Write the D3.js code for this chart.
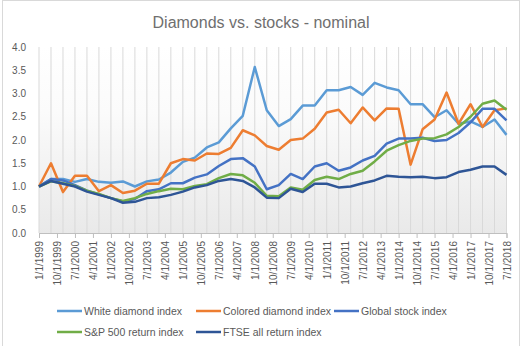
<!DOCTYPE html>
<html>
<head>
<meta charset="utf-8">
<script src="https://cdn.jsdelivr.net/npm/d3@7"></script>
<style>
  body { margin: 0; background: white; }
  text { font-family: "Liberation Sans", Arial, sans-serif; fill: #595959; }
</style>
</head>
<body>
<div id="chart"></div>
<script>

// half-yearly index values, all start at 1.0
var dates = ["1/1/1999","7/1/1999","1/1/2000","7/1/2000","1/1/2001","7/1/2001","1/1/2002","7/1/2002",
  "1/1/2003","7/1/2003","1/1/2004","7/1/2004","1/1/2005","7/1/2005","1/1/2006","7/1/2006",
  "1/1/2007","7/1/2007","1/1/2008","7/1/2008","1/1/2009","7/1/2009","1/1/2010","7/1/2010",
  "1/1/2011","7/1/2011","1/1/2012","7/1/2012","1/1/2013","7/1/2013","1/1/2014","7/1/2014",
  "1/1/2015","7/1/2015","1/1/2016","7/1/2016","1/1/2017","7/1/2017","1/1/2018","7/1/2018"];

var whiteDiamond = [1.00,1.16,1.16,1.10,1.16,1.10,1.08,1.11,1.00,1.11,1.15,1.30,1.53,1.62,1.84,1.95,2.25,2.52,3.57,2.64,
  2.30,2.45,2.74,2.74,3.07,3.07,3.14,2.97,3.23,3.13,3.07,2.77,2.77,2.49,2.64,2.35,2.40,2.28,2.44,2.11];
var coloredDiamond = [1.00,1.50,0.88,1.23,1.23,0.90,1.03,0.86,0.91,1.06,1.06,1.50,1.59,1.56,1.71,1.70,1.83,2.21,2.10,1.87,
  1.79,2.00,2.03,2.24,2.59,2.65,2.36,2.70,2.42,2.68,2.67,1.47,2.23,2.44,3.02,2.35,2.77,2.28,2.64,2.68];
var globalStock = [1.00,1.16,1.13,1.03,0.91,0.83,0.75,0.68,0.73,0.90,0.94,1.07,1.07,1.19,1.26,1.44,1.59,1.61,1.43,0.94,
  1.03,1.27,1.16,1.43,1.50,1.34,1.41,1.56,1.66,1.92,2.03,2.03,2.05,1.98,2.00,2.15,2.38,2.67,2.67,2.42];
var sp500 = [1.00,1.11,1.07,1.01,0.91,0.84,0.75,0.69,0.75,0.84,0.90,0.95,0.94,1.01,1.05,1.18,1.27,1.24,1.08,0.80,
  0.79,0.98,0.93,1.14,1.21,1.16,1.27,1.34,1.54,1.77,1.89,1.98,2.03,2.04,2.12,2.28,2.50,2.78,2.85,2.65];
var ftseAll = [1.00,1.12,1.06,1.00,0.89,0.82,0.75,0.65,0.67,0.75,0.77,0.82,0.89,0.98,1.03,1.12,1.16,1.12,0.98,0.76,
  0.75,0.95,0.88,1.06,1.06,0.98,1.00,1.07,1.13,1.23,1.21,1.20,1.21,1.18,1.20,1.31,1.36,1.43,1.43,1.25];

var tickLabels = ["1/1/1999","10/1/1999","7/1/2000","4/1/2001","1/1/2002","10/1/2002","7/1/2003","4/1/2004",
  "1/1/2005","10/1/2005","7/1/2006","4/1/2007","1/1/2008","10/1/2008","7/1/2009","4/1/2010","1/1/2011",
  "10/1/2011","7/1/2012","4/1/2013","1/1/2014","10/1/2014","7/1/2015","4/1/2016","1/1/2017","10/1/2017","7/1/2018"];

var yTicks = [0, 0.5, 1, 1.5, 2, 2.5, 3, 3.5, 4];

var seriesNames = ["White diamond index","Colored diamond index","Global stock index","S&P 500 return index","FTSE all return index"];
var seriesColors = ["#5b9bd5","#ed7d31","#4472c4","#70ad47","#2e5596"];
var seriesValues = [whiteDiamond, coloredDiamond, globalStock, sp500, ftseAll];

var width = 526, height = 346;
var parse = d3.timeParse("%m/%d/%Y");
var start = parse(dates[0]);
function months(s) { return d3.timeMonth.count(start, parse(s)); }

var x = d3.scaleLinear().domain([0, months(dates[dates.length - 1])]).range([39, 506.5]);
var y = d3.scaleLinear().domain([0, 4]).range([233, 47]);

var svg = d3.select('#chart').append('svg')
  .attr('width', width)
  .attr('height', height);

// chart frame
svg.append('rect')
  .attr('x', 2.5).attr('y', 0.5)
  .attr('width', 517).attr('height', 360)
  .attr('fill', 'white')
  .attr('stroke', '#d9d9d9');

var grad = svg.append('defs').append('linearGradient')
  .attr('id', 'plotfill')
  .attr('x1', 0).attr('y1', 0).attr('x2', 0).attr('y2', 1);
grad.append('stop').attr('offset', '0%').attr('stop-color', '#ffffff');
grad.append('stop').attr('offset', '35%').attr('stop-color', '#fbfbfb');
grad.append('stop').attr('offset', '100%').attr('stop-color', '#e9e9e9');

svg.append('rect')
  .attr('x', x.range()[0]).attr('y', y(4))
  .attr('width', x.range()[1] - x.range()[0])
  .attr('height', y(0) - y(4))
  .attr('fill', 'url(#plotfill)');

// vertical gridline at every data point
svg.append('g').selectAll('line')
  .data(dates)
  .enter().append('line')
  .attr('x1', function(d) { return x(months(d)); })
  .attr('x2', function(d) { return x(months(d)); })
  .attr('y1', y(4)).attr('y2', y(0))
  .attr('stroke', '#d9d9d9')
  .attr('stroke-width', 1);

svg.append('text')
  .attr('x', 261).attr('y', 28)
  .attr('text-anchor', 'middle')
  .style('font-size', '16px')
  .style('fill', '#6f6f6f')
  .text('Diamonds vs. stocks - nominal');

// y axis labels only, no axis line
var yAxis = d3.axisLeft(y).tickValues(yTicks).tickFormat(d3.format('.1f')).tickSize(0).tickPadding(13);
var gy = svg.append('g').attr('transform', 'translate(39,0)').call(yAxis);
gy.select('.domain').remove();
gy.selectAll('text').style('font-size', '10px').style('font-family', null);

// x axis: ticks every 9 months, labels rotated
var xAxis = d3.axisBottom(x)
  .tickValues(tickLabels.map(months))
  .tickFormat(function(d, i) { return tickLabels[i]; })
  .tickSizeOuter(0)
  .tickSize(5);
var gx = svg.append('g').attr('transform', 'translate(0,' + y(0) + ')').call(xAxis);
gx.select('.domain').attr('stroke', '#bfbfbf');
gx.selectAll('.tick line').attr('stroke', '#bfbfbf');
gx.selectAll('text')
  .style('font-size', '10px')
  .style('font-family', null)
  .attr('text-anchor', 'end')
  .attr('transform', 'rotate(-90)')
  .attr('x', -8).attr('y', 0).attr('dy', '0.35em');

var line = d3.line()
  .x(function(d, i) { return x(months(dates[i])); })
  .y(function(d) { return y(d); });

svg.append('g').selectAll('path')
  .data(seriesValues)
  .enter().append('path')
  .attr('d', line)
  .attr('fill', 'none')
  .attr('stroke', function(d, i) { return seriesColors[i]; })
  .attr('stroke-width', 2.5)
  .attr('stroke-linejoin', 'round');

// legend, two rows
var legendPos = [[57, 311], [196, 311], [334, 311], [57, 332], [196, 332]];
var legend = svg.append('g').selectAll('g')
  .data(seriesNames)
  .enter().append('g')
  .attr('transform', function(d, i) { return 'translate(' + legendPos[i][0] + ',' + legendPos[i][1] + ')'; });

legend.append('line')
  .attr('x1', 0).attr('x2', 25)
  .attr('stroke', function(d, i) { return seriesColors[i]; })
  .attr('stroke-width', 2.5);

legend.append('text')
  .attr('x', 27).attr('dy', '0.35em')
  .style('font-size', '10.5px')
  .text(function(d) { return d; });

</script>
</body>
</html>
